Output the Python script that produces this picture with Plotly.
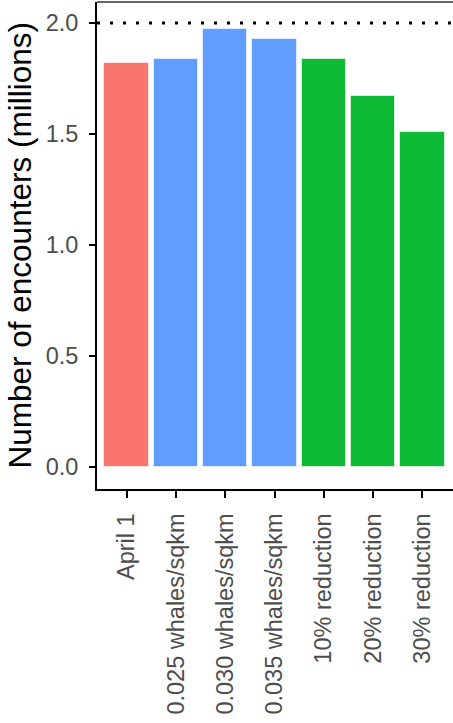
import plotly.graph_objects as go

categories = ["April 1", "0.025 whales/sqkm", "0.030 whales/sqkm", "0.035 whales/sqkm",
              "10% reduction", "20% reduction", "30% reduction"]
values = [1.818, 1.839, 1.973, 1.928, 1.837, 1.671, 1.508]
groups = ["base", "density", "density", "density", "reduction", "reduction", "reduction"]
group_colors = {"base": "#F8766D", "density": "#619CFF", "reduction": "#0DB935"}
reference_level = 2.0
y_ticks = [0.0, 0.5, 1.0, 1.5, 2.0]
y_ticklabels = ["0.0", "0.5", "1.0", "1.5", "2.0"]
y_title = "Number of encounters (millions)"

fig = go.Figure()
fig.add_trace(go.Bar(
    x=list(range(len(categories))), y=values, width=0.9,
    marker=dict(color=[group_colors[g] for g in groups],
                line=dict(color="rgba(255,255,255,0.6)", width=1)),
    showlegend=False,
))
fig.add_shape(type="line", xref="paper", x0=0, x1=1, yref="y",
              y0=reference_level, y1=reference_level,
              line=dict(color="black", width=3, dash="3px,10px"))
# thin top border of the panel
fig.add_shape(type="line", xref="paper", x0=0, x1=1, yref="paper", y0=1, y1=1,
              line=dict(color="#333333", width=1.5))

font = "Liberation Sans, Arial, sans-serif"
fig.add_annotation(text=y_title, xref="paper", yref="paper", x=0, y=0.5,
                   xshift=-78, xanchor="center", yanchor="middle", textangle=-90,
                   showarrow=False, font=dict(size=31.5, color="black", family=font))

fig.update_layout(
    width=453, height=723,
    margin=dict(l=97, r=0, t=2, b=234),
    paper_bgcolor="white", plot_bgcolor="white",
    font=dict(family=font),
    bargap=0,
)
fig.update_xaxes(
    range=[-0.6, 6.62], tickmode="array", tickvals=list(range(len(categories))),
    ticktext=categories, tickangle=-90, automargin=False,
    tickfont=dict(size=23.5, color="#4D4D4D", family=font),
    ticks="outside", ticklen=7, tickwidth=1.5, tickcolor="black",
    ticklabelstandoff=6,
    showline=True, linecolor="black", linewidth=2, mirror=False,
    showgrid=False, zeroline=False,
)
fig.update_yaxes(
    range=[-0.099, 2.095], tickmode="array", tickvals=y_ticks, ticktext=y_ticklabels,
    automargin=False,
    tickfont=dict(size=23.5, color="#4D4D4D", family=font),
    ticks="outside", ticklen=6, tickwidth=1.5, tickcolor="black",
    ticklabelstandoff=6,
    showline=True, linecolor="black", linewidth=2, mirror=False,
    showgrid=False, zeroline=False,
)
fig.write_html("out.html", config={"displayModeBar": False},
               post_script="document.body.style.margin='0';")
